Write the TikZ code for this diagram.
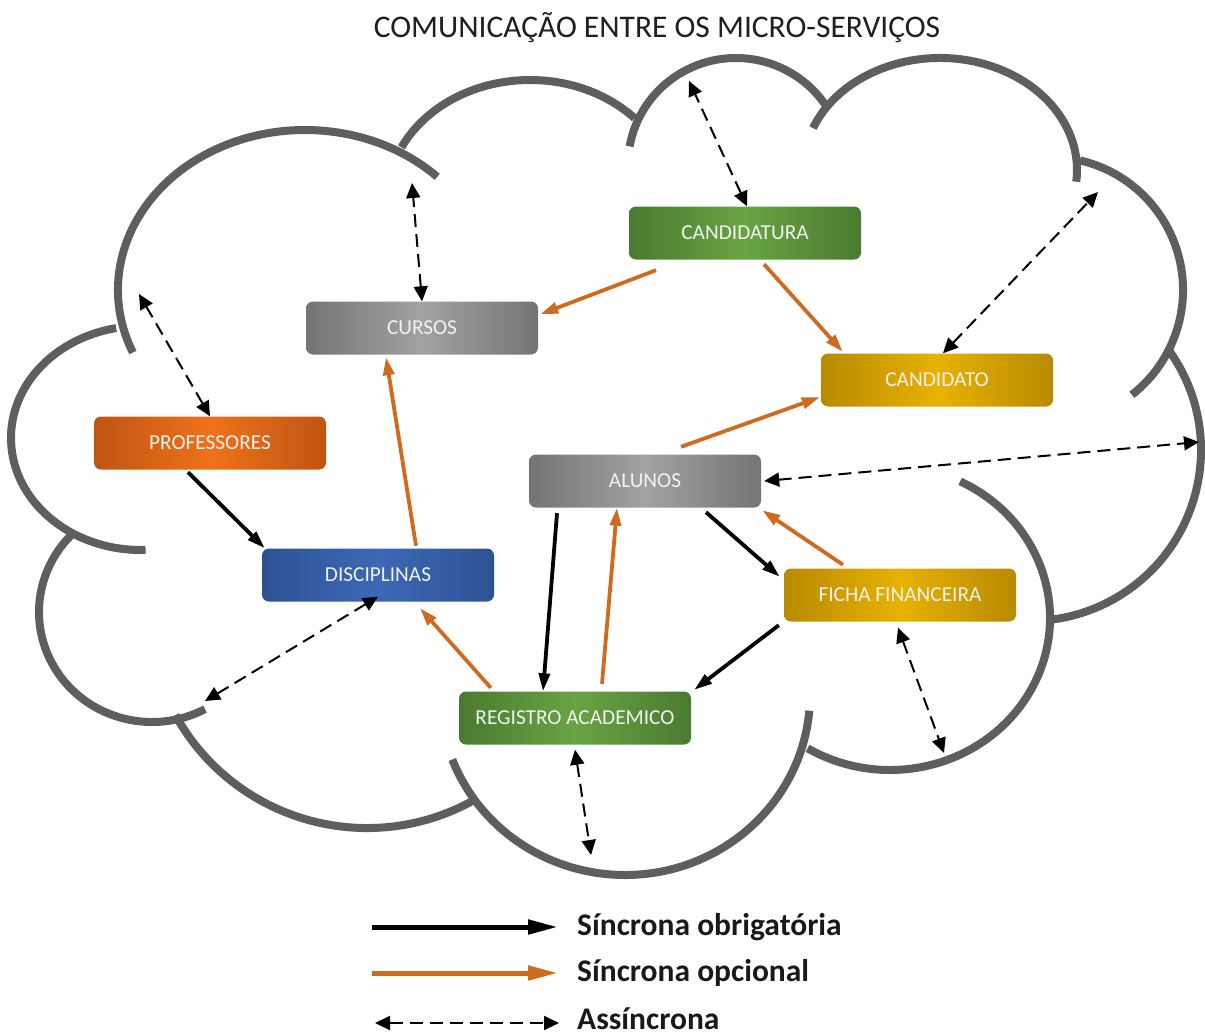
\documentclass[tikz,border=0pt]{standalone}
\usepackage{fontspec}
\setmainfont{Carlito}
\usetikzlibrary{arrows.meta}

\definecolor{cloudgray}{HTML}{5E5E5E}
\definecolor{optorange}{HTML}{CF6A1F}
\definecolor{grnD}{HTML}{4A7A30}
\definecolor{grnL}{HTML}{68A443}
\definecolor{gryD}{HTML}{747474}
\definecolor{gryL}{HTML}{A2A2A2}
\definecolor{ylwD}{HTML}{B88A00}
\definecolor{ylwL}{HTML}{E8B200}
\definecolor{orgD}{HTML}{BE5512}
\definecolor{orgL}{HTML}{F0711A}
\definecolor{bluD}{HTML}{2D5294}
\definecolor{bluL}{HTML}{3D68B6}

% one lobe of the cloud: centre x, centre y, x radius, y radius, start, end
\newcommand\cloudarc[6]{%
  \draw[cloudline] (#1,#2) ++(#5:#3 and #4)
    arc[start angle=#5, end angle=#6, x radius=#3, y radius=#4];}

\begin{document}
\begin{tikzpicture}[x=1pt,y=-1pt,
  cloudline/.style={draw=cloudgray, line width=8pt},
  svc/.style={rounded corners=7pt, minimum width=232pt, minimum height=53pt,
    inner sep=0pt, text=white!95!black, font=\fontsize{21.3}{25}\selectfont},
  greenbox/.style={svc, left color=grnD, right color=grnD, middle color=grnL},
  graybox/.style={svc, left color=gryD, right color=gryD, middle color=gryL},
  yellowbox/.style={svc, left color=ylwD, right color=ylwD, middle color=ylwL},
  orangebox/.style={svc, left color=orgD, right color=orgD, middle color=orgL},
  bluebox/.style={svc, left color=bluD, right color=bluD, middle color=bluL},
  mandatory/.style={draw=black, line width=3.8pt, -{Triangle[length=18pt,width=11pt]}},
  optional/.style={draw=optorange, line width=3.8pt, -{Triangle[length=18pt,width=11pt]}},
  async/.style={draw=black, line width=2pt, dash pattern=on 13pt off 7pt,
    {Triangle[length=15pt,width=14pt]}-{Triangle[length=15pt,width=14pt]}},
  legendtext/.style={anchor=base west, inner sep=0pt, text=black!90,
    font=\fontsize{31.5}{36}\selectfont\bfseries},
]
\useasboundingbox (0,0) rectangle (1205,1036);

% title
\node[anchor=base, inner sep=0pt, text=black!88, font=\fontsize{31.5}{36}\selectfont]
  (title) at (657,37) {COMUNICAÇÃO ENTRE OS MICRO-SERVIÇOS};

% cloud outline
\cloudarc{141}{438}{130}{112}{88}{259}
\cloudarc{305}{290}{187}{160}{157}{315}
\cloudarc{530}{200}{143}{120}{206}{317}
\cloudarc{736}{165}{108}{107}{190}{327}
\cloudarc{940}{170}{137}{112}{202}{366}
\cloudarc{1050}{290}{133}{133}{283}{412}
\cloudarc{1030}{450}{171}{171}{-36}{84}
\cloudarc{890}{618}{160}{152}{-64}{121}
\cloudarc{625}{695}{185}{180}{5}{159}
\cloudarc{367}{609}{219}{219}{61}{151}
\cloudarc{152}{612}{113}{110}{62}{226}

% services
\node[greenbox]  (cand)   at (745,233) {CANDIDATURA};
\node[graybox]   (cursos) at (422,328) {CURSOS};
\node[yellowbox] (candto) at (937,380) {CANDIDATO};
\node[orangebox] (prof)   at (210,443) {PROFESSORES};
\node[graybox]   (alunos) at (645,481) {ALUNOS};
\node[bluebox]   (disc)   at (378,575) {DISCIPLINAS};
\node[yellowbox] (ficha)  at (900,595) {FICHA FINANCEIRA};
\node[greenbox]  (reg)    at (575,718) {REGISTRO ACADEMICO};

% mandatory synchronous calls
\draw[mandatory] ([xshift=-22pt,yshift=-2.5pt]prof.south) -- ([xshift=3pt]disc.north west);
\draw[mandatory] ([xshift=-88pt,yshift=-5.5pt]alunos.south) -- ([xshift=-32pt]reg.north);
\draw[mandatory] ([xshift=61pt,yshift=-4.5pt]alunos.south) -- ([xshift=-4pt,yshift=-8.5pt]ficha.north west);
\draw[mandatory] ([xshift=-5pt,yshift=-3.5pt]ficha.south west) -- ([xshift=3pt,yshift=1.5pt]reg.north east);

% optional synchronous calls
\draw[optional] ([xshift=-89pt,yshift=-10.5pt]cand.south) -- ([xshift=2pt,yshift=-13pt]cursos.north east);
\draw[optional] ([xshift=19pt,yshift=-4.5pt]cand.south) -- ([xshift=22pt,yshift=1.5pt]candto.north west);
\draw[optional] ([xshift=36pt,yshift=7.5pt]alunos.north) -- ([xshift=-1pt,yshift=9.5pt]candto.south west);
\draw[optional] ([xshift=38pt,yshift=2.5pt]disc.north) -- ([xshift=-36pt,yshift=-2.5pt]cursos.south);
\draw[optional] ([xshift=27pt,yshift=7.5pt]reg.north) -- ([xshift=-28pt]alunos.south);
\draw[optional] ([xshift=-57pt,yshift=3.5pt]ficha.north) -- ([xshift=1pt,yshift=-2.5pt]alunos.south east);
\draw[optional] ([xshift=32pt,yshift=3.5pt]reg.north west) -- ([xshift=42pt,yshift=-6.5pt]disc.south);

% asynchronous messages leaving the cloud
\coordinate (a1) at (412,183);
\coordinate (a2) at (689,81);
\coordinate (a3) at (139,294);
\coordinate (a4) at (1098,192);
\coordinate (a5) at (1199,442);
\coordinate (a6) at (205,701);
\coordinate (a7) at (591,855);
\coordinate (a8) at (944,753);
\draw[async] (cursos.north) -- (a1);
\draw[async] ([xshift=2pt]cand.north) -- (a2);
\draw[async] (prof.north) -- (a3);
\draw[async] ([xshift=6pt]candto.north) -- (a4);
\draw[async] ([xshift=3pt]alunos.east) -- (a5);
\draw[async] ([yshift=5pt]disc.south) -- (a6);
\draw[async] ([yshift=-5pt]reg.south) -- (a7);
\draw[async] ([xshift=-2pt,yshift=-6pt]ficha.south) -- (a8);

% legend
\node[legendtext] (lg1) at (577,935) {Síncrona obrigatória};
\node[legendtext] (lg2) at (577,981) {Síncrona opcional};
\node[legendtext] (lg3) at (577,1029) {Assíncrona};
\coordinate (l1a) at (372,927); \coordinate (l1b) at (558,927);
\coordinate (l2a) at (372,973); \coordinate (l2b) at (558,973);
\coordinate (l3a) at (375,1023); \coordinate (l3b) at (559,1023);
\draw[draw=black, line width=5pt, -{Triangle[length=30pt,width=14pt]}] (l1a) -- (l1b);
\draw[draw=optorange, line width=5pt, -{Triangle[length=30pt,width=14pt]}] (l2a) -- (l2b);
\draw[async] (l3a) -- (l3b);
\end{tikzpicture}
\end{document}
